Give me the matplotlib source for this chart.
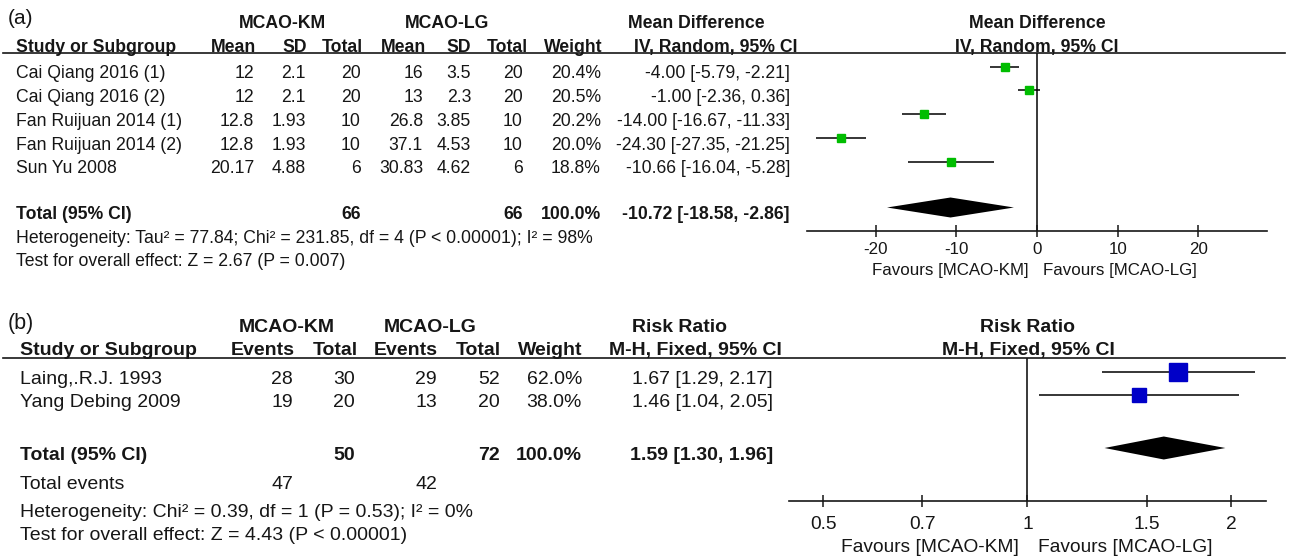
import matplotlib
matplotlib.use('Agg')
import matplotlib.pyplot as plt
from matplotlib.lines import Line2D
from matplotlib.patches import Polygon
from matplotlib.ticker import FixedLocator, NullLocator
import numpy as np

plt.rcParams['font.family'] = 'Liberation Sans'
plt.rcParams['axes.unicode_minus'] = False

# (a) continuous outcome, mean difference
studies_a = ['Cai Qiang 2016 (1)', 'Cai Qiang 2016 (2)', 'Fan Ruijuan 2014 (1)',
             'Fan Ruijuan 2014 (2)', 'Sun Yu 2008']
km_mean = [12, 12, 12.8, 12.8, 20.17]
km_sd = [2.1, 2.1, 1.93, 1.93, 4.88]
km_n = [20, 20, 10, 10, 6]
lg_mean = [16, 13, 26.8, 37.1, 30.83]
lg_sd = [3.5, 2.3, 3.85, 4.53, 4.62]
lg_n = [20, 20, 10, 10, 6]
weight_a = [20.4, 20.5, 20.2, 20.0, 18.8]
md = [-4.00, -1.00, -14.00, -24.30, -10.66]
md_lo = [-5.79, -2.36, -16.67, -27.35, -16.04]
md_hi = [-2.21, 0.36, -11.33, -21.25, -5.28]
md_total = [-10.72, -18.58, -2.86]
n_total_a = [66, 66]
weight_total_a = 100.0
ticks_a = [-20, -10, 0, 10, 20]
het_a = 'Heterogeneity: Tau² = 77.84; Chi² = 231.85, df = 4 (P < 0.00001); I² = 98%'
test_a = 'Test for overall effect: Z = 2.67 (P = 0.007)'

# (b) dichotomous outcome, risk ratio
studies_b = ['Laing,.R.J. 1993', 'Yang Debing 2009']
km_events = [28, 19]
km_total = [30, 20]
lg_events = [29, 13]
lg_total = [52, 20]
weight_b = [62.0, 38.0]
rr = [1.67, 1.46]
rr_lo = [1.29, 1.04]
rr_hi = [2.17, 2.05]
rr_total = [1.59, 1.30, 1.96]
n_total_b = [50, 72]
weight_total_b = 100.0
events_total_b = [47, 42]
ticks_b = [0.5, 0.7, 1, 1.5, 2]
het_b = 'Heterogeneity: Chi² = 0.39, df = 1 (P = 0.53); I² = 0%'
test_b = 'Test for overall effect: Z = 4.43 (P < 0.00001)'

W, H, DPI = 1290, 557, 100
INK = '#161616'
GREEN = '#00bd00'
BLUE = '#0000c8'

fig = plt.figure(figsize=(W / DPI, H / DPI), dpi=DPI)


def txt(x, y, s, size, ha='left', bold=False):
    # x, y in pixels from the top left; y is the middle of the capitals
    base = y + 0.36 * size * DPI / 72
    fig.text(x / W, 1 - base / H, s, ha=ha, va='baseline', fontsize=size,
             fontweight='bold' if bold else 'normal', color=INK)


def hline(y, x0=3, x1=1285):
    fig.add_artist(Line2D([x0 / W, x1 / W], [1 - y / H] * 2, color=INK, lw=1.2))


def forest_axes(left, right, top, bottom, fs, pad):
    ax = fig.add_axes([left / W, 1 - bottom / H, (right - left) / W, (bottom - top) / H])
    for s in ['left', 'right', 'top']:
        ax.spines[s].set_visible(False)
    ax.spines['bottom'].set_linewidth(1.2)
    ax.spines['bottom'].set_color(INK)
    ax.set_yticks([])
    ax.patch.set_alpha(0)
    ax.tick_params(axis='x', direction='inout', length=8.6, width=1.1,
                   labelsize=fs, pad=pad, colors=INK)
    return ax


def px2pt(p):
    return p * 72 / DPI


# ---------------- panel (a) ----------------
FA = 12.7
A_ROW0, A_STEP = 72, 23.75
A_LINE, A_AXIS = 53, 231
A_TOTAL, A_HET, A_TEST = 213, 237, 260
SHIFT = 5.5

txt(8, 17, '(a)', 15)
txt(282, 22, 'MCAO-KM', FA, ha='center', bold=True)
txt(447, 22, 'MCAO-LG', FA, ha='center', bold=True)
txt(696, 22, 'Mean Difference', FA, ha='center', bold=True)
txt(1037, 22, 'Mean Difference', FA, ha='center', bold=True)

txt(16, 46, 'Study or Subgroup', FA, bold=True)
for x, s in zip([256, 307, 363, 426, 471, 528, 602],
                ['Mean', 'SD', 'Total', 'Mean', 'SD', 'Total', 'Weight']):
    txt(x, 46, s, FA, ha='right', bold=True)
txt(716, 46, 'IV, Random, 95% CI', FA, ha='center', bold=True)
txt(1037, 46, 'IV, Random, 95% CI', FA, ha='center', bold=True)
hline(A_LINE)

cols_a = [254, 306, 361, 423, 471, 523, 601, 790]
for i, name in enumerate(studies_a):
    y = A_ROW0 + i * A_STEP
    txt(16, y, name, FA)
    vals = [f'{km_mean[i]:g}', f'{km_sd[i]:g}', f'{km_n[i]}',
            f'{lg_mean[i]:g}', f'{lg_sd[i]:g}', f'{lg_n[i]}',
            f'{weight_a[i]:.1f}%',
            f'{md[i]:.2f} [{md_lo[i]:.2f}, {md_hi[i]:.2f}]']
    for x, s in zip(cols_a, vals):
        txt(x, y, s, FA, ha='right')

txt(16, A_TOTAL, 'Total (95% CI)', FA, bold=True)
txt(cols_a[2], A_TOTAL, f'{n_total_a[0]}', FA, ha='right', bold=True)
txt(cols_a[5], A_TOTAL, f'{n_total_a[1]}', FA, ha='right', bold=True)
txt(cols_a[6], A_TOTAL, f'{weight_total_a:.1f}%', FA, ha='right', bold=True)
txt(cols_a[7], A_TOTAL, f'{md_total[0]:.2f} [{md_total[1]:.2f}, {md_total[2]:.2f}]',
    FA, ha='right', bold=True)
txt(16, A_HET, het_a, FA)
txt(16, A_TEST, test_a, FA)

ax = forest_axes(807, 1267, A_LINE, A_AXIS, 12.2, 3.6)
ax.set_xlim(-28.5, 28.5)
ax.set_ylim((A_AXIS - A_ROW0) / A_STEP, (A_LINE - A_ROW0) / A_STEP)
ax.xaxis.set_major_locator(FixedLocator(ticks_a))
ax.axvline(0, color=INK, lw=1.2)
ya = np.arange(len(md)) - SHIFT / A_STEP
ax.hlines(ya, md_lo, md_hi, color='black', lw=1.1, zorder=2)
for y, m, w in zip(ya, md, weight_a):
    ax.plot(m, y, 's', ms=px2pt(1.79 * np.sqrt(w)), color=GREEN, mec=GREEN, zorder=3)
yd = (A_TOTAL - A_ROW0) / A_STEP - SHIFT / A_STEP
hd = 10 / A_STEP
ax.add_patch(Polygon([(md_total[1], yd), (md_total[0], yd - hd),
                      (md_total[2], yd), (md_total[0], yd + hd)],
                     closed=True, color='black', lw=0))
txt(1029, 269, 'Favours [MCAO-KM]', 12.2, ha='right')
txt(1043, 269, 'Favours [MCAO-LG]', 12.2, ha='left')

# ---------------- panel (b) ----------------
FB = 14.0
B_ROW0, B_STEP = 377, 23
B_LINE, B_AXIS = 358, 501
B_TOTAL, B_EVENTS, B_HET, B_TEST = 453, 482, 510, 533

txt(8, 321, '(b)', 15.5)
txt(287, 325, 'MCAO-KM', FB, ha='center', bold=True)
txt(430, 325, 'MCAO-LG', FB, ha='center', bold=True)
txt(679, 325, 'Risk Ratio', FB, ha='center', bold=True)
txt(1028, 325, 'Risk Ratio', FB, ha='center', bold=True)

txt(20, 348, 'Study or Subgroup', FB, bold=True)
for x, s in zip([295, 358, 438, 501, 582],
                ['Events', 'Total', 'Events', 'Total', 'Weight']):
    txt(x, 348, s, FB, ha='right', bold=True)
txt(695, 348, 'M-H, Fixed, 95% CI', FB, ha='center', bold=True)
txt(1028, 348, 'M-H, Fixed, 95% CI', FB, ha='center', bold=True)
hline(B_LINE)

cols_b = [293, 355, 437, 500, 582, 773]
for i, name in enumerate(studies_b):
    y = B_ROW0 + i * B_STEP
    txt(20, y, name, FB)
    vals = [f'{km_events[i]}', f'{km_total[i]}', f'{lg_events[i]}', f'{lg_total[i]}',
            f'{weight_b[i]:.1f}%', f'{rr[i]:.2f} [{rr_lo[i]:.2f}, {rr_hi[i]:.2f}]']
    for x, s in zip(cols_b, vals):
        txt(x, y, s, FB, ha='right')

txt(20, B_TOTAL, 'Total (95% CI)', FB, bold=True)
txt(cols_b[1], B_TOTAL, f'{n_total_b[0]}', FB, ha='right', bold=True)
txt(cols_b[3], B_TOTAL, f'{n_total_b[1]}', FB, ha='right', bold=True)
txt(cols_b[4], B_TOTAL, f'{weight_total_b:.1f}%', FB, ha='right', bold=True)
txt(cols_b[5], B_TOTAL, f'{rr_total[0]:.2f} [{rr_total[1]:.2f}, {rr_total[2]:.2f}]',
    FB, ha='right', bold=True)
txt(20, B_EVENTS, 'Total events', FB)
txt(cols_b[0], B_EVENTS, f'{events_total_b[0]}', FB, ha='right')
txt(cols_b[2], B_EVENTS, f'{events_total_b[1]}', FB, ha='right')
txt(20, B_HET, het_b, FB)
txt(20, B_TEST, test_b, FB)

bx = forest_axes(789, 1266, B_LINE, B_AXIS, 13.8, 6.6)
bx.set_xscale('log')
bx.set_xlim(0.445, 2.25)
bx.set_ylim((B_AXIS - B_ROW0) / B_STEP, (B_LINE - B_ROW0) / B_STEP)
bx.xaxis.set_major_locator(FixedLocator(ticks_b))
bx.xaxis.set_minor_locator(NullLocator())
bx.set_xticklabels([f'{t:g}' for t in ticks_b])
bx.axvline(1, color=INK, lw=1.2)
yb = np.arange(len(rr)) - 5 / B_STEP
bx.hlines(yb, rr_lo, rr_hi, color='black', lw=1.1, zorder=2)
for y, r, w in zip(yb, rr, weight_b):
    bx.plot(r, y, 's', ms=px2pt(2.29 * np.sqrt(w)), color=BLUE, mec=BLUE, zorder=3)
yd = (B_TOTAL - B_ROW0) / B_STEP - 5 / B_STEP
hd = 11.5 / B_STEP
bx.add_patch(Polygon([(rr_total[1], yd), (rr_total[0], yd - hd),
                      (rr_total[2], yd), (rr_total[0], yd + hd)],
                     closed=True, color='black', lw=0))
txt(1019, 545, 'Favours [MCAO-KM]', 13.8, ha='right')
txt(1038, 545, 'Favours [MCAO-LG]', 13.8, ha='left')

fig.savefig('out.png', dpi=DPI, facecolor='white')
